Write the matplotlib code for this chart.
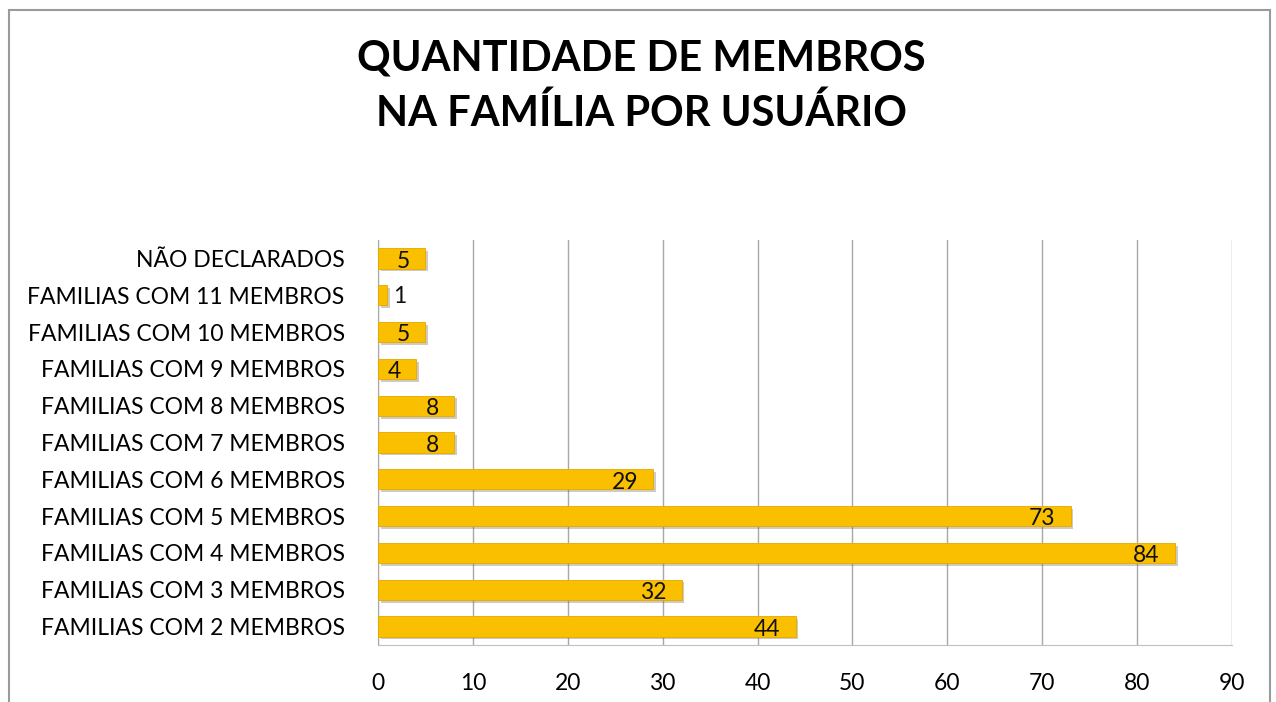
import matplotlib
matplotlib.use("Agg")
import matplotlib.pyplot as plt
import matplotlib.patheffects as pe
from matplotlib.patches import Rectangle

plt.rcParams['font.family'] = ['Lato', 'DejaVu Sans']

# dados (de baixo para cima)
categorias = [
    "FAMILIAS COM 2 MEMBROS",
    "FAMILIAS COM 3 MEMBROS",
    "FAMILIAS COM 4 MEMBROS",
    "FAMILIAS COM 5 MEMBROS",
    "FAMILIAS COM 6 MEMBROS",
    "FAMILIAS COM 7 MEMBROS",
    "FAMILIAS COM 8 MEMBROS",
    "FAMILIAS COM 9 MEMBROS",
    "FAMILIAS COM 10 MEMBROS",
    "FAMILIAS COM 11 MEMBROS",
    "NÃO DECLARADOS",
]
valores = [44, 32, 84, 73, 29, 8, 8, 4, 5, 1, 5]
ticks_x = [0, 10, 20, 30, 40, 50, 60, 70, 80, 90]

W, H = 1276, 702
fig = plt.figure(figsize=(W / 100, H / 100), dpi=100)

# moldura do gráfico
fig.patches.append(Rectangle((9 / W, -0.01), (1270 - 9) / W, 1.01 - 10 / H,
                             transform=fig.transFigure, fill=False,
                             edgecolor='#9a9a9a', linewidth=1.5))

ax = fig.add_axes([378 / W, 1 - 645 / H, (1232 - 378) / W, (645 - 240) / H])

y = list(range(len(categorias)))
bars = ax.barh(y, valores, height=0.55, color='#FAC000', edgecolor='#E5A800',
               linewidth=0.6, zorder=3)
for b in bars:
    b.set_path_effects([pe.SimplePatchShadow(offset=(2, -2), shadow_rgbFace='#7a6a50', alpha=0.35),
                        pe.Normal()])

for yi, v in zip(y, valores):
    if v >= 3:
        ax.annotate(str(v), (v, yi), xytext=(-11, -2), textcoords='offset points',
                    ha='right', va='center', fontsize=16.5, color='#111111', zorder=4)
    else:
        ax.annotate(str(v), (v, yi), xytext=(4, -1), textcoords='offset points',
                    ha='left', va='center', fontsize=16.5, color='#111111', zorder=4)

ax.set_xlim(0, 90)
ax.set_ylim(-0.5, len(categorias) - 0.5)
ax.set_xticks(ticks_x)
ax.set_xticklabels([str(t) for t in ticks_x], fontsize=16.5)
ax.set_yticks(y)
ax.set_yticklabels(categorias, fontsize=16.5)
ax.tick_params(axis='x', length=0, pad=20)
ax.tick_params(axis='y', length=0, pad=24)
ax.grid(axis='x', color='#a8a8a8', linewidth=1, zorder=0)
for s in ['top', 'right']:
    ax.spines[s].set_visible(False)
ax.spines['left'].set_color('#a8a8a8')
ax.spines['bottom'].set_color('#c0c0c0')

fig.text(641 / W, 1 - 86 / H, "QUANTIDADE DE MEMBROS\nNA FAMÍLIA POR USUÁRIO",
         ha='center', va='center', fontsize=30, fontweight='bold',
         linespacing=1.5, color='#000000')

fig.savefig("out.png", dpi=100)
